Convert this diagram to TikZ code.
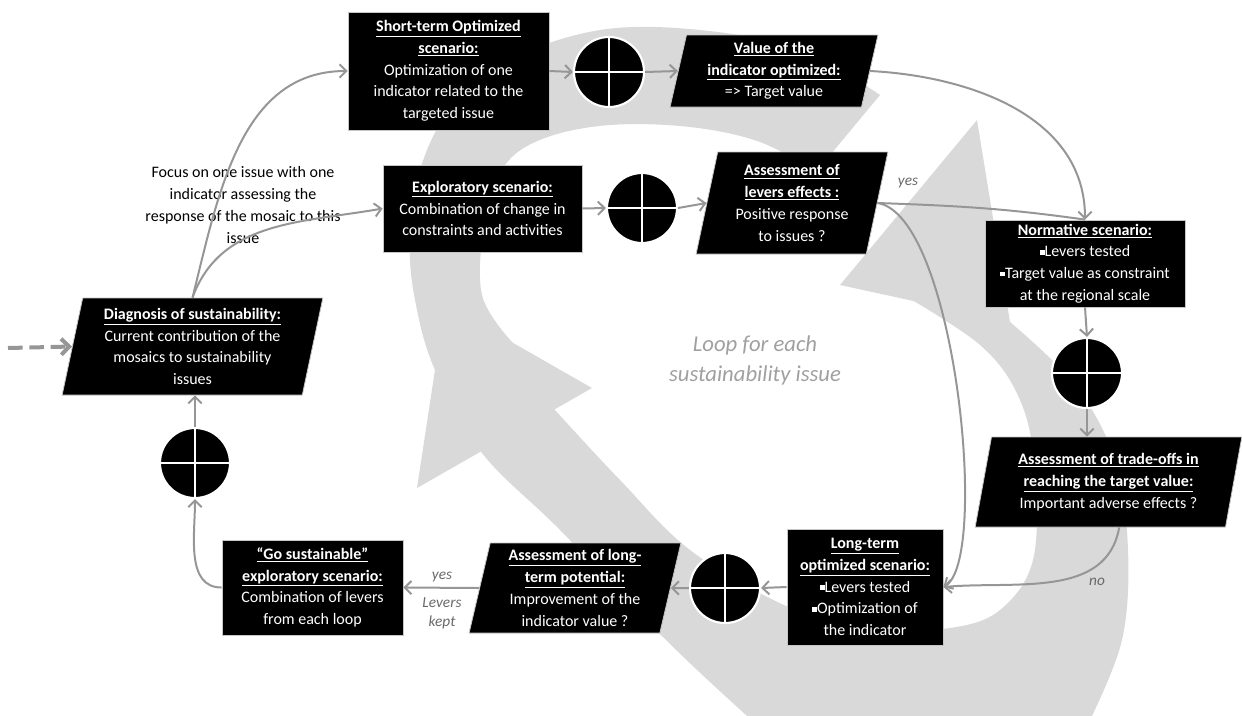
\documentclass[tikz,border=0pt]{standalone}
\usepackage{fontspec}
\setmainfont{Carlito}
\usetikzlibrary{shapes.geometric,arrows.meta}
\definecolor{ringgray}{RGB}{217,217,217}
\definecolor{conngray}{RGB}{150,150,150}
\definecolor{lblgray}{RGB}{105,105,105}
\definecolor{loopgray}{RGB}{160,160,160}
\newcommand\ttl[1]{\underline{\textbf{#1}}}
\newcommand\sqbul{\raisebox{0.3ex}{\rule{0.3em}{0.3em}}}
\newcommand\boxfont{\fontsize{12}{16.3}\selectfont}
\begin{document}
\begin{tikzpicture}[x=0.75pt,y=0.75pt,
  box/.style={rectangle, fill=black, draw=gray!45, line width=0.6pt, text=white, align=center, inner sep=1pt, font=\boxfont},
  para/.style={trapezium, trapezium left angle=78, trapezium right angle=102, trapezium stretches=true, fill=black, draw=gray!45, line width=0.6pt, text=white, align=center, inner sep=1pt, font=\boxfont},
  disc/.style={circle, fill=black, draw=white, line width=1.6pt, minimum size=52.5pt, inner sep=0pt},
  conn/.style={draw=conngray, line width=1.5pt, -{Straight Barb[length=5pt,width=10pt]}},
  plain/.style={draw=conngray, line width=1.5pt},
  lab/.style={text=lblgray, font=\fontsize{11.5}{14.5}\selectfont\itshape, align=center}
]
\useasboundingbox (0,0) rectangle (1242,-715);
\clip (0,0) rectangle (1242,-715);

% background loop
\fill[ringgray] plot[smooth, tension=0.6] coordinates {(880,-95) (800,-50) (700,-30) (600,-30) (510,-60) (450,-110) (420,-170) (410,-240) (415,-300) (435,-370) (482,-453) (560,-530) (663,-637) (746,-715) (820,-780)}
 -- (1000,-800) -- plot[smooth, tension=0.6] coordinates {(1090,-720) (1122,-640) (1128,-550) (1115,-460) (1075,-385) (1010,-322)}
 -- plot[smooth, tension=0.6] coordinates {(895,-290) (980,-345) (1020,-400) (1035,-470) (1033,-560) (1000,-610) (950,-628) (880,-628) (800,-612) (694,-553) (620,-480) (555,-410)}
 -- plot[smooth, tension=0.6] coordinates {(513,-343) (482,-295) (485,-220) (505,-165) (545,-138) (610,-125) (690,-127) (760,-142) (816,-172)} -- cycle;
\fill[ringgray] (417,-488) -- (445,-304) -- (592,-388) -- cycle;
\fill[ringgray] (977,-120) -- (840,-285) -- (1010,-322) -- cycle;

\node[text=loopgray, font=\fontsize{17}{22.5}\selectfont\itshape, align=center] (LOOP) at (755,-360) {Loop for each\\sustainability issue};

% nodes
\node[box, minimum width=150.75pt, minimum height=88.5pt] (ST) at (448.5,-71) {\ttl{Short-term Optimized}\\\ttl{scenario:}\\Optimization of one\\indicator related to the\\targeted issue};
\node[box, minimum width=149.25pt, minimum height=65.25pt] (EX) at (482.5,-208.5) {\ttl{Exploratory scenario:}\\Combination of change in\\constraints and activities};
\node[box, minimum width=150pt, minimum height=65.25pt] (NO) at (1085,-263.5) {\ttl{Normative scenario:}\\\sqbul Levers tested\\\sqbul Target value as constraint\\at the regional scale};
\node[box, minimum width=117pt, minimum height=87pt] (LT) at (865,-587) {\ttl{Long-term}\\\ttl{optimized scenario:}\\\sqbul Levers tested\\\sqbul Optimization of\\the indicator};
\node[box, minimum width=135.75pt, minimum height=71.25pt] (GO) at (312.5,-587.5) {\ttl{“Go sustainable”}\\\ttl{exploratory scenario:}\\Combination of levers\\from each loop};

\node[para, minimum width=195.75pt, minimum height=72.75pt] (DG) at (192.5,-346.5) {\ttl{Diagnosis of sustainability:}\\Current contribution of the\\mosaics to sustainability\\issues};
\node[para, minimum width=156pt, minimum height=54pt] (VA) at (774,-71) {\ttl{Value of the}\\\ttl{indicator optimized:}\\=> Target value};
\node[para, minimum width=144pt, minimum height=76.5pt] (LE) at (792,-203) {\ttl{Assessment of}\\\ttl{levers effects :}\\Positive response\\to issues ?};
\node[para, minimum width=200.25pt, minimum height=67.5pt] (TR) at (1108.5,-482) {\ttl{Assessment of trade-offs in}\\\ttl{reaching the target value:}\\Important adverse effects ?};
\node[para, minimum width=159pt, minimum height=67.5pt] (LP) at (575,-588) {\ttl{Assessment of long-}\\\ttl{term potential:}\\Improvement of the\\indicator value ?};

\node[disc] (C1) at (609,-72) {};
\node[disc] (C2) at (642,-208) {};
\node[disc] (C3) at (1087,-373) {};
\node[disc] (C4) at (725,-588) {};
\node[disc] (C5) at (195,-463) {};
\foreach \c in {C1,C2,C3,C4,C5} \draw[white, line width=1.5pt] (\c.north) -- (\c.south) (\c.west) -- (\c.east);

\node[font=\boxfont, align=center] (FO) at (243,-205) {Focus on one issue with one\\indicator assessing the\\response of the mosaic to this\\issue};

% labels
\node[lab] (Y1) at (908,-183) {yes};
\node[lab] (NL) at (1097,-582) {no};
\node[lab] (Y2) at (442,-577) {yes};
\node[lab] (LK) at (442,-613) {Levers\\kept};

% connectors
\coordinate (DS) at (8,-348);
\draw[draw=conngray, line width=3pt, dash pattern=on 11pt off 5pt, -{Straight Barb[length=6pt,width=12pt]}] (DS) -- (DG.west);
\draw[conn] (DG.north) to[out=76, in=180] (ST.west);
\draw[conn] (DG.north) to[out=70, in=190] (EX.west);
\draw[conn] (ST.east) -- (C1.west);
\draw[conn] (C1.east) -- (VA.west);
\draw[conn] (EX.east) -- (C2.west);
\draw[conn] (C2.east) -- (LE.west);
\draw[conn] (VA.east) to[out=-3, in=90] (NO.north);
\draw[plain] (LE.east) to[out=-2, in=172] (NO.north);
\draw[conn] (LE.east) .. controls (955,-215) and (990,-560) .. (LT.east);
\draw[conn] (NO.south) -- (C3.north);
\draw[conn] (C3.south) -- (C3.south |- TR.north);
\draw[conn] ([xshift=8pt]TR.south) to[out=-100, in=5] (LT.east);
\draw[conn] (LT.west) -- (C4.east);
\draw[conn] (C4.west) -- (LP.east);
\draw[conn] (LP.west) -- (GO.east);
\draw[conn] (GO.west) to[out=180, in=-90] (C5.south);
\draw[conn] (C5.north) -- (C5.north |- DG.south);
\end{tikzpicture}
\end{document}
